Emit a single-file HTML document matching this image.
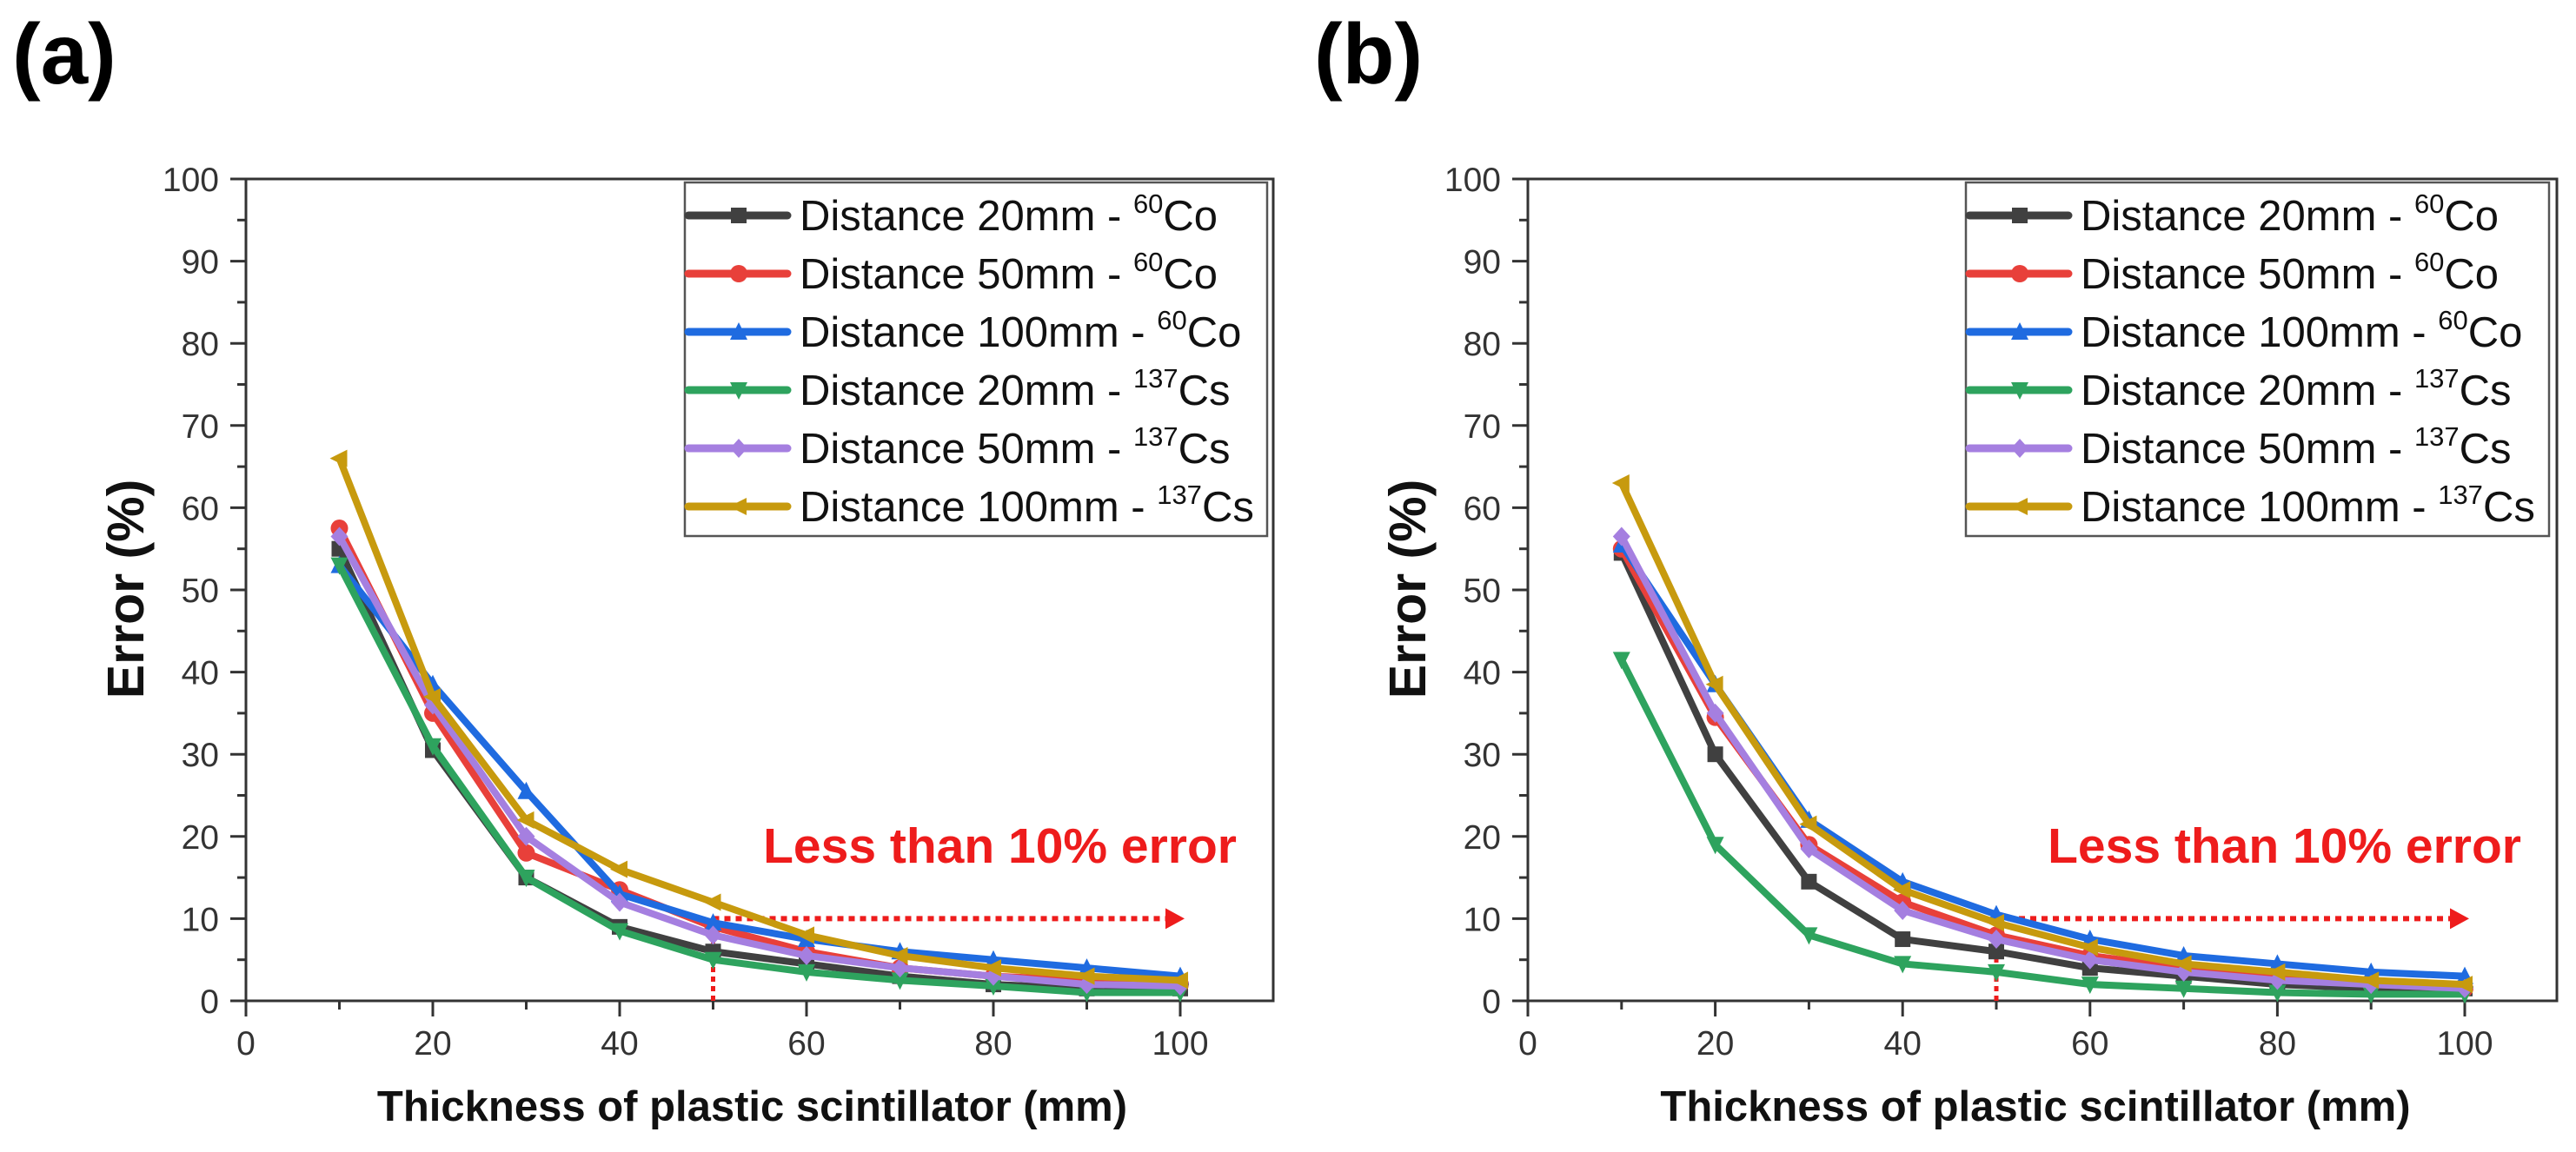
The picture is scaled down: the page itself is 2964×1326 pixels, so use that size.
<!DOCTYPE html>
<html><head><meta charset="utf-8"><style>
html,body{margin:0;padding:0;background:#fff;width:2964px;height:1326px;overflow:hidden}
svg{display:block;font-family:"Liberation Sans",Arial,sans-serif}
</style></head><body>
<svg id="chart" width="2964" height="1326" viewBox="0 0 2964 1326" xmlns="http://www.w3.org/2000/svg"></svg>
<script>
const xCats=[10,20,30,40,50,60,70,80,90,100];
const xTicks=[0,20,40,60,80,100];
const yTicks=[0,10,20,30,40,50,60,70,80,90,100];
const seriesNames=["Distance 20mm - ","Distance 50mm - ","Distance 100mm - ","Distance 20mm - ","Distance 50mm - ","Distance 100mm - "];
const seriesIso=[["60","Co"],["60","Co"],["60","Co"],["137","Cs"],["137","Cs"],["137","Cs"]];
const colors=["#404040","#e8403a","#1f6be0","#2ea35e","#a57fe0","#c79a0e"];
const markers=["square","circle","tri-up","tri-down","diamond","tri-left"];
const a_s1=[55,30.5,15,9,6,4.5,3,2,1.5,1.5];
const a_s2=[57.5,35,18,13.5,9,6,4,3,2.5,2];
const a_s3=[53,38.5,25.5,13,9.5,7.5,6,5,4,3];
const a_s4=[53,31,15,8.5,5,3.5,2.5,1.8,1,1];
const a_s5=[56.5,36,20,12,8,5.5,4,3,2,1.8];
const a_s6=[66,37,22,16,12,8,5.5,4,3,2.5];
const b_s1=[54.5,30,14.5,7.5,6,4,3,2,1.5,1.5];
const b_s2=[55,34.5,19,12,8,5.5,4,3,2,1.5];
const b_s3=[55.5,38.5,22,14.5,10.5,7.5,5.5,4.5,3.5,3];
const b_s4=[41.5,19,8,4.5,3.5,2,1.5,1,0.8,0.8];
const b_s5=[56.5,35,18.5,11,7.5,5,3.5,2.5,2,1.5];
const b_s6=[63,38.5,21.5,13.5,9.5,6.5,4.5,3.5,2.5,2];
const NS="http://www.w3.org/2000/svg";
const svg=document.getElementById('chart');
function mk(tag,attrs,parent){const e=document.createElementNS(NS,tag);for(const k in attrs)e.setAttribute(k,attrs[k]);(parent||svg).appendChild(e);return e;}
function marker(g,type,cx,cy,col){
  const s=9;let e;
  if(type==="square")e=mk('rect',{x:cx-s,y:cy-s,width:2*s,height:2*s,fill:col},g);
  else if(type==="circle")e=mk('circle',{cx:cx,cy:cy,r:s+1,fill:col},g);
  else{let p;
    if(type==="tri-up")p=[[cx,cy-s-2],[cx+s+1,cy+s],[cx-s-1,cy+s]];
    else if(type==="tri-down")p=[[cx,cy+s+2],[cx+s+1,cy-s],[cx-s-1,cy-s]];
    else if(type==="diamond")p=[[cx,cy-s-2],[cx+s+1,cy],[cx,cy+s+2],[cx-s-1,cy]];
    else p=[[cx-s-2,cy],[cx+s,cy-s-1],[cx+s,cy+s+1]];
    e=mk('polygon',{points:p.map(q=>q.join(',')).join(' '),fill:col},g);}
  
  
}
function panel(id,label,labelX,x0,x100,right,legX,legR,data){
  const yTop=206,yBot=1152;
  const sx=v=>x0+(x100-x0)*v/100, sy=v=>yBot-(yBot-yTop)*v/100;
  const g=mk('g',{});
  const t=mk('text',{x:labelX,y:96,'font-size':98,'font-weight':'bold',},g);t.textContent=label;
  mk('rect',{x:x0,y:yTop,width:right-x0,height:yBot-yTop,fill:'none',stroke:'#333','stroke-width':3,},g);
  for(const v of yTicks){
    mk('line',{x1:x0-18,x2:x0,y1:sy(v),y2:sy(v),stroke:'#333','stroke-width':3,},g);
    const tx=mk('text',{x:x0-31,y:sy(v)+14,'text-anchor':'end','font-size':39,fill:'#333',},g);tx.textContent=v;
    if(v<100)mk('line',{x1:x0-10,x2:x0,y1:sy(v+5),y2:sy(v+5),stroke:'#333','stroke-width':3,},g);
  }
  for(let v=0;v<=100;v+=10){
    const major=xTicks.includes(v);
    mk('line',{x1:sx(v),x2:sx(v),y1:yBot,y2:yBot+(major?18:10),stroke:'#333','stroke-width':3,},g);
  }
  for(const v of xTicks){const tx=mk('text',{x:sx(v),y:1214,'text-anchor':'middle','font-size':39,fill:'#333',},g);tx.textContent=v;}
  const xt=mk('text',{x:sx(50)+45,y:1290,'text-anchor':'middle','font-size':49,'font-weight':'bold',fill:'#111',},g);xt.textContent='Thickness of plastic scintillator (mm)';
  const yt=mk('text',{x:0,y:0,transform:`translate(${x0-118},${678}) rotate(-90)`,'text-anchor':'middle','font-size':59,'font-weight':'bold',fill:'#111',},g);yt.textContent='Error (%)';
  mk('line',{x1:sx(50),x2:sx(50),y1:yBot,y2:sy(10),stroke:'#ee1c1c','stroke-width':5,'stroke-dasharray':'6 5',},g);
  mk('line',{x1:sx(50),x2:sx(100)-10,y1:sy(10),y2:sy(10),stroke:'#ee1c1c','stroke-width':6,'stroke-dasharray':'7 6',},g);
  mk('polygon',{points:`${sx(100)+5},${sy(10)} ${sx(100)-17},${sy(10)-12} ${sx(100)-17},${sy(10)+12}`,fill:'#ee1c1c',},g);
  const at=mk('text',{x:sx(100)+65,y:993,'text-anchor':'end','font-size':57,'font-weight':'bold',fill:'#ee1c1c',},g);at.textContent='Less than 10% error';
  data.forEach((vals,i)=>{
    const sg=mk('g',{},g);
    mk('polyline',{points:vals.map((v,j)=>sx(xCats[j])+','+sy(v)).join(' '),fill:'none',stroke:colors[i],'stroke-width':8,'stroke-linejoin':'round',},sg);
    vals.forEach((v,j)=>marker(sg,markers[i],sx(xCats[j]),sy(v),colors[i]));
  });
  const lg=mk('g',{},g);
  mk('rect',{x:legX,y:210,width:legR-legX,height:407,fill:'#fff',stroke:'#555','stroke-width':2.5,},lg);
  for(let i=0;i<6;i++){
    const cy=248+i*67;
    const eg=mk('g',{},lg);
    mk('line',{x1:legX+4,x2:legX+118,y1:cy,y2:cy,stroke:colors[i],'stroke-width':9,'stroke-linecap':'round'},eg);
    marker(eg,markers[i],legX+62,cy,colors[i]);
    const tx=mk('text',{x:legX+132,y:cy+17,'font-size':49,fill:'#111'},eg);
    tx.appendChild(document.createTextNode(seriesNames[i]));
    const sup=document.createElementNS(NS,'tspan');sup.setAttribute('font-size',31);sup.setAttribute('dy',-20);sup.textContent=seriesIso[i][0];tx.appendChild(sup);
    const el=document.createElementNS(NS,'tspan');el.setAttribute('dy',20);el.textContent=seriesIso[i][1];tx.appendChild(el);
  }
}
panel('a','(a)',14,283,1358,1465,788,1458,[a_s1,a_s2,a_s3,a_s4,a_s5,a_s6]);
panel('b','(b)',1512,1758,2836,2942,2262,2933,[b_s1,b_s2,b_s3,b_s4,b_s5,b_s6]);
</script>
</body></html>
